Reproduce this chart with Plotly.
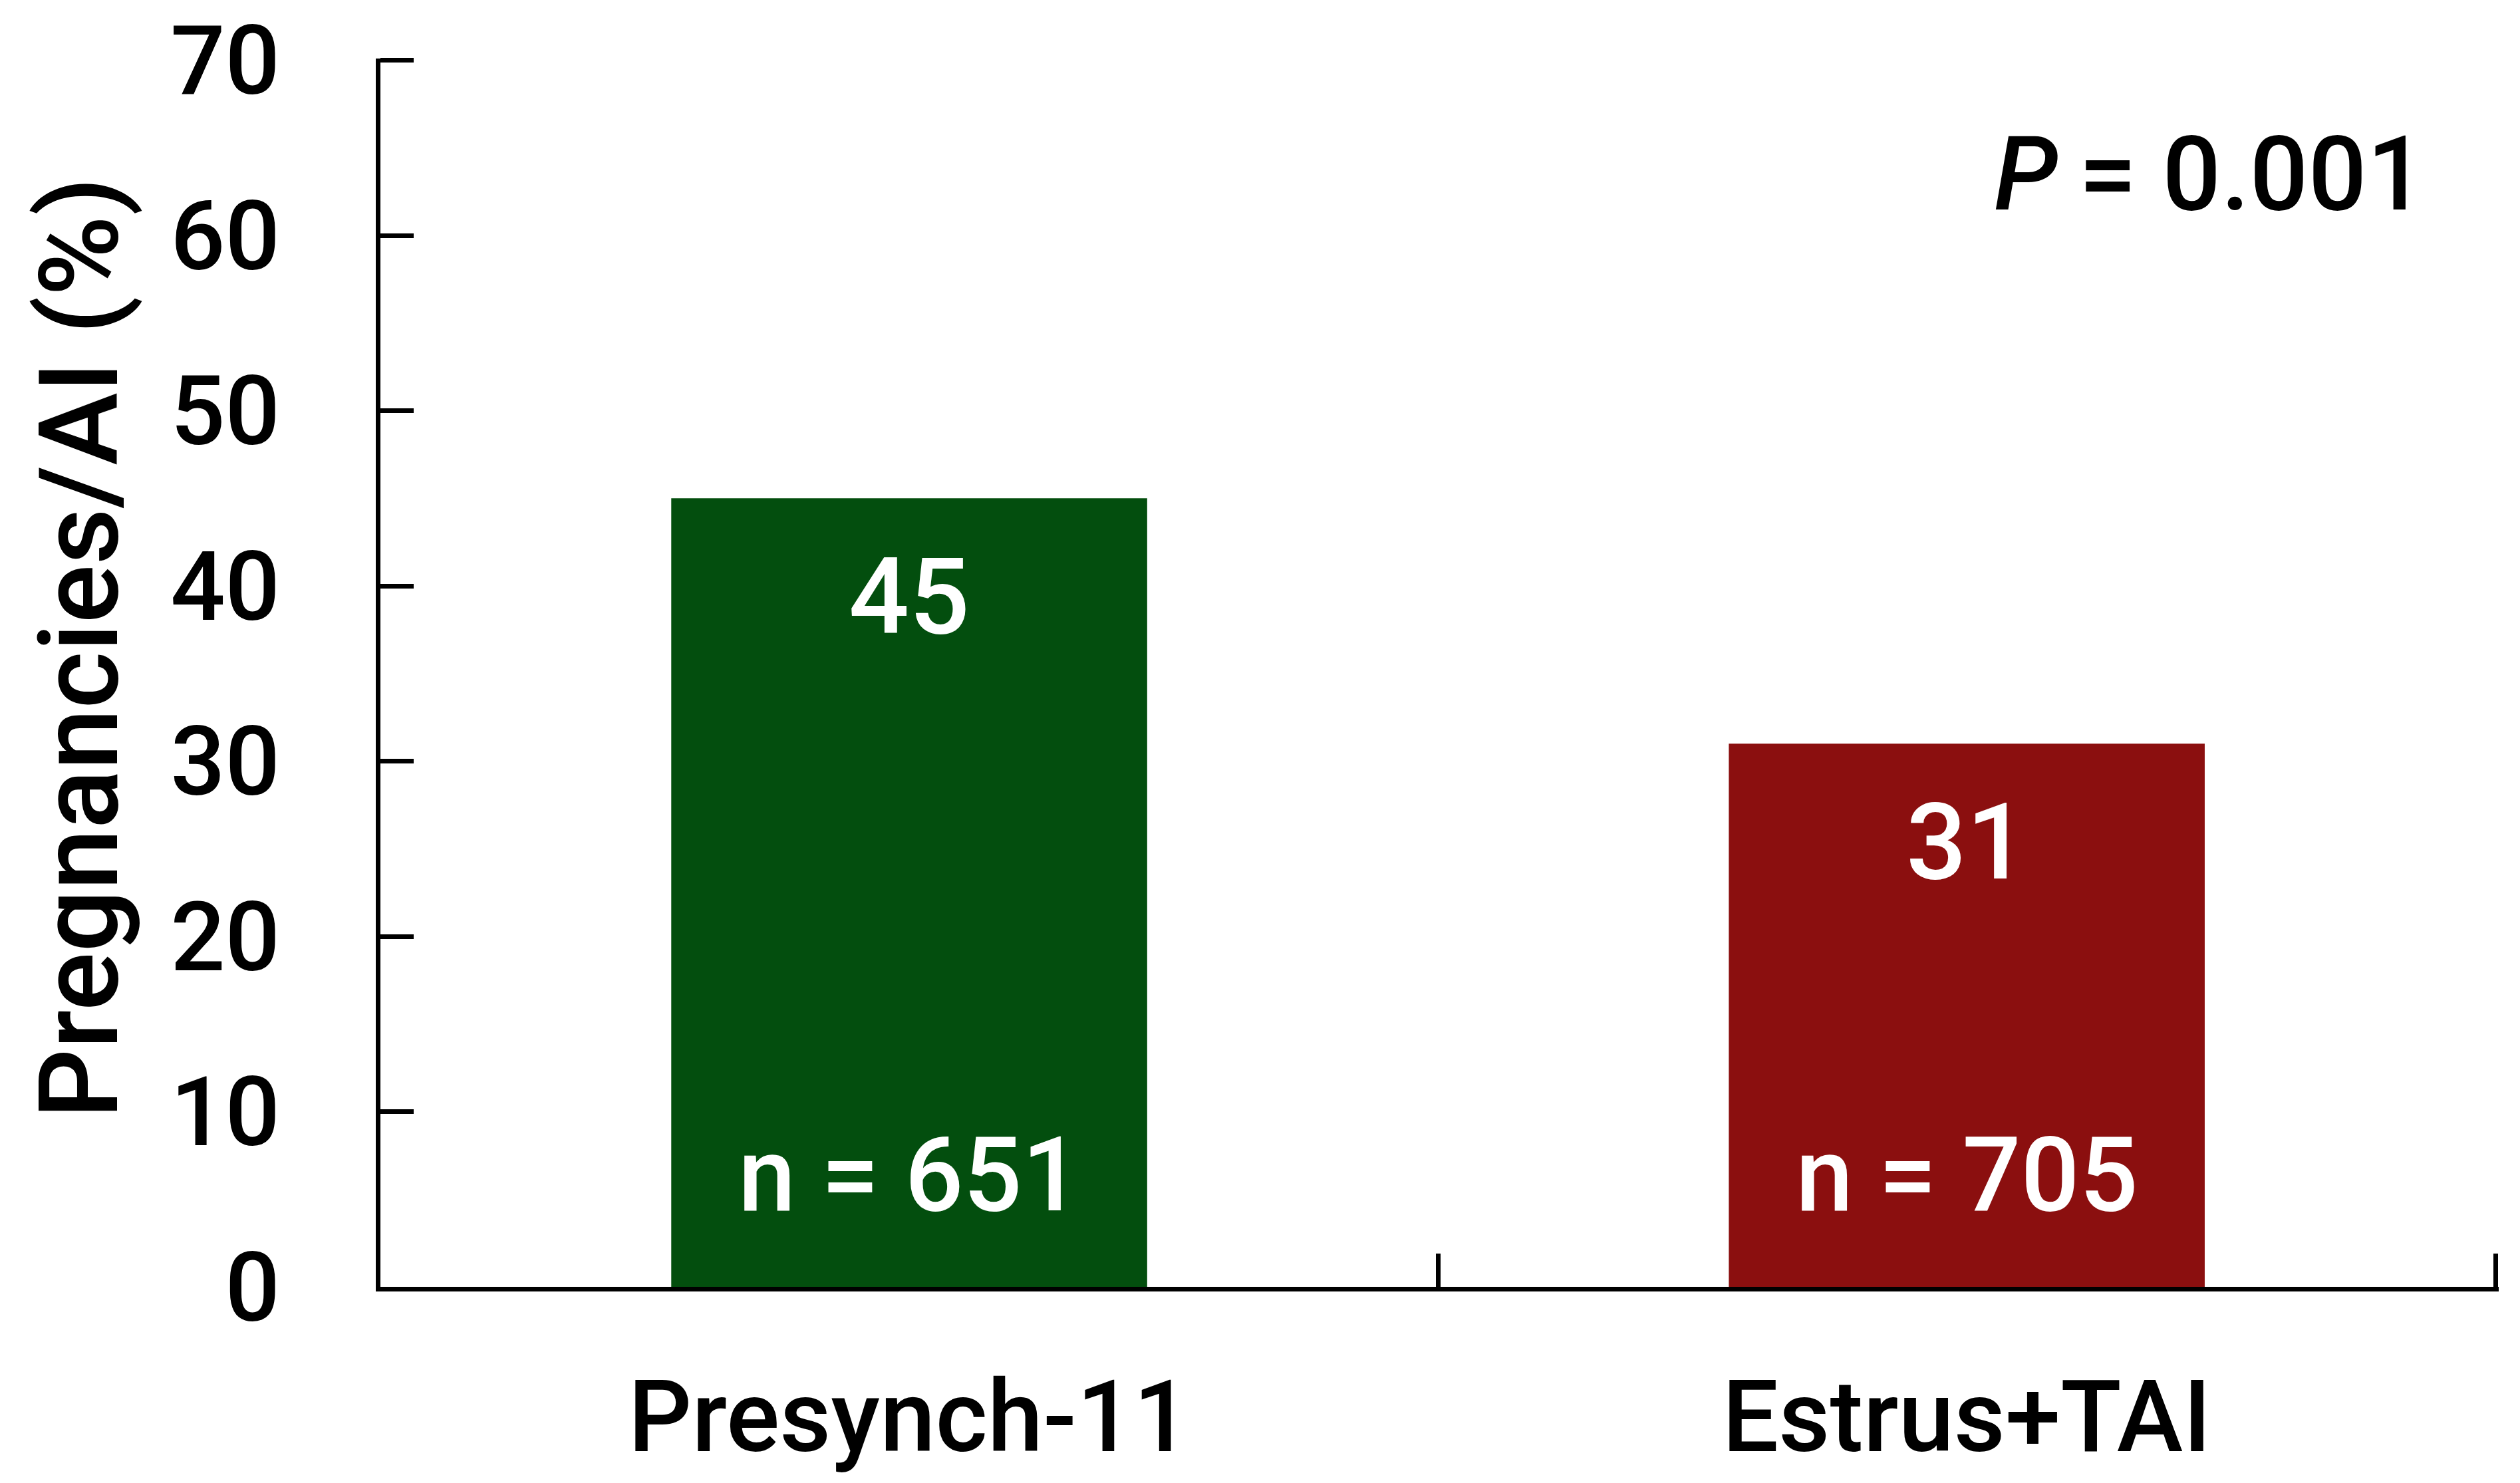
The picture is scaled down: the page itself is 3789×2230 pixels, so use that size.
import plotly.graph_objects as go

categories = ["Presynch-11", "Estrus+TAI"]
values = [45, 31]
n_labels = ["n = 651", "n = 705"]
bar_colors = ["#034E0E", "#8B0F0F"]
y_ticks = [0, 10, 20, 30, 40, 50, 60, 70]
p_text = "<i>P</i>\u2009= 0.001"
y_title = "Pregnancies/AI (%)"

FONT = "Roboto, sans-serif"
W = 500

n_cat = len(categories)
boundaries = list(range(n_cat + 1))  # category boundaries on a 0..n_cat scale
EPS_X = 0.003   # tiny pad so plotly does not clip the end ticks
EPS_Y = 0.1

fig = go.Figure()
fig.add_trace(go.Bar(
    x=categories, y=values, width=0.45,
    marker=dict(color=bar_colors, line=dict(width=0)),
    showlegend=False, hoverinfo="skip",
))
# helper trace so the boundary-tick axis is drawn
fig.add_trace(go.Scatter(
    x=boundaries, y=[0] * len(boundaries), xaxis="x2", yaxis="y",
    mode="markers", marker=dict(opacity=0, size=1),
    showlegend=False, hoverinfo="skip",
))

for c, v in zip(categories, values):
    fig.add_annotation(x=c, y=v, text=str(v), showarrow=False, yshift=-148,
                       yanchor="middle", font=dict(family=FONT, size=160, color="white", weight=W))
for c, t in zip(categories, n_labels):
    fig.add_annotation(x=c, y=0, text=t, showarrow=False, yshift=168,
                       yanchor="middle", font=dict(family=FONT, size=155, color="white", weight=W))

fig.add_annotation(xref="paper", yref="paper", x=0.966, y=0.906, text=p_text,
                   showarrow=False, xanchor="right", yanchor="middle",
                   font=dict(family=FONT, size=155, color="black", weight=W))

fig.add_annotation(xref="paper", yref="paper", x=-0.142, y=0.52, text=y_title,
                   textangle=-90, showarrow=False, xanchor="center", yanchor="middle",
                   font=dict(family=FONT, size=165, color="black", weight=W))

fig.update_layout(
    width=3789, height=2230,
    margin=dict(l=564, r=40, t=80, b=303),
    plot_bgcolor="white", paper_bgcolor="white",
    bargap=0.55,
    xaxis=dict(
        range=[-0.5, n_cat - 0.5 + EPS_X], showline=True, linecolor="black", linewidth=7,
        ticks="", showgrid=False, zeroline=False, automargin=False,
        tickfont=dict(family=FONT, size=150, color="black", weight=W),
        ticklabelstandoff=60, ticklabeloverflow="allow",
    ),
    xaxis2=dict(
        overlaying="x", anchor="y", side="bottom", range=[0, n_cat + EPS_X],
        tickvals=boundaries, showticklabels=False,
        ticks="inside", ticklen=50, tickwidth=7, tickcolor="black",
        showline=False, showgrid=False, zeroline=False, automargin=False,
    ),
    yaxis=dict(
        range=[0, 70 + EPS_Y], tickvals=y_ticks, showline=True, linecolor="black", linewidth=7,
        ticks="inside", ticklen=50, tickwidth=7, tickcolor="black",
        showgrid=False, zeroline=False, automargin=False,
        tickfont=dict(family=FONT, size=145, color="black", weight=W),
        ticklabelstandoff=115, ticklabeloverflow="allow",
    ),
)

fig.write_html("out.html")
